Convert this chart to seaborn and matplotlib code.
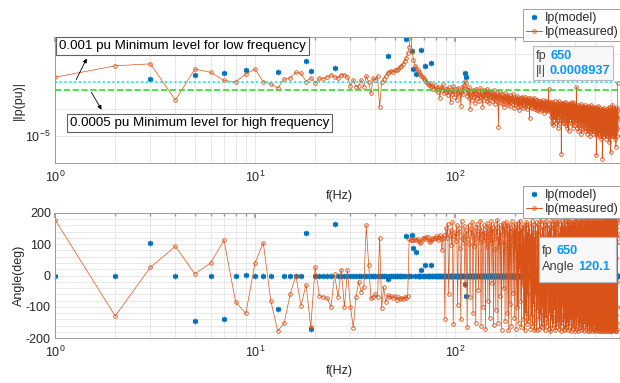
import numpy as np
import pandas as pd
import matplotlib
matplotlib.use("Agg")
import matplotlib.pyplot as plt
import seaborn as sns
from matplotlib.patches import Rectangle, FancyArrowPatch
from matplotlib.lines import Line2D
from matplotlib.ticker import FixedLocator, FixedFormatter, NullFormatter

# ---------------- data ----------------
freq_hz = list(range(1, 651))

# measured |Ip| in milli-pu (1e-3 pu), one value per Hz, 1..650 Hz
meas_mag_mpu = [
    1.45, 3.8, 4.5, 0.21, 2.9, 2.2, 1.1, 0.98, 1.9, 2.9,
    0.98, 0.83, 0.58, 1.23, 1.35, 2.2, 2.0, 1.0, 1.4, 0.87,
    1.35, 1.26, 1.5, 1.8, 1.5, 1.33, 1.8, 1.8, 1.5, 0.69,
    1.15, 0.64, 0.69, 1.15, 0.64, 1.6, 0.97, 0.37, 1.36, 1.15,
    1.6, 0.117, 0.97, 1.26, 1.6, 2.1, 2.3, 2.5, 2.3, 2.7,
    2.7, 2.9, 3.5, 3.8, 4.5, 5.8, 7.4, 11, 19, 60,
    13, 6.3, 3.8, 3.2, 2.7, 2.3, 1.9, 1.6, 1.5, 1.26,
    1.15, 0.97, 0.82, 0.75, 0.9, 0.64, 0.69, 0.54, 0.75, 0.5,
    0.59, 0.42, 0.64, 0.25, 0.59, 0.5, 0.82, 0.38, 0.54, 0.42,
    0.55, 0.32, 0.61, 0.40, 0.18, 0.48, 0.35, 0.70, 0.28, 0.44,
    0.52, 0.22, 0.38, 0.60, 0.31, 0.47, 0.13, 0.42, 0.66, 0.36,
    0.75, 1.05, 0.90, 0.55, 0.30, 0.48, 0.26, 0.62, 0.10, 0.40,
    0.35, 0.21, 0.50, 0.28, 0.44, 0.17, 0.38, 0.55, 0.24, 0.33,
    0.46, 0.19, 0.30, 0.58, 0.27, 0.40, 0.12, 0.36, 0.49, 0.22,
    0.31, 0.43, 0.26, 0.52, 0.20, 0.34, 0.45, 0.16, 0.38, 0.28,
    0.30, 0.42, 0.19, 0.27, 0.36, 0.23, 0.48, 0.15, 0.29, 0.33,
    0.21, 0.38, 0.26, 0.18, 0.022, 0.31, 0.24, 0.40, 0.17, 0.28,
    0.22, 0.34, 0.15, 0.26, 0.30, 0.12, 0.25, 0.37, 0.19, 0.23,
    0.28, 0.16, 0.33, 0.21, 0.14, 0.27, 0.20, 0.31, 0.13, 0.24,
    0.18, 0.26, 0.22, 0.35, 0.15, 0.20, 0.28, 0.11, 0.23, 0.19,
    0.21, 0.14, 0.25, 0.17, 0.30, 0.12, 0.19, 0.23, 0.09, 0.18,
    0.26, 0.15, 0.20, 0.13, 0.24, 0.17, 0.28, 0.11, 0.19, 0.22,
    0.14, 0.21, 0.16, 0.27, 0.12, 0.18, 0.23, 0.10, 0.20, 0.15,
    0.25, 0.13, 0.19, 0.16, 0.22, 0.045, 0.17, 0.24, 0.12, 0.18,
    0.14, 0.20, 0.11, 0.23, 0.16, 0.19, 0.13, 0.26, 0.15, 0.12,
    0.17, 0.10, 0.21, 0.14, 0.18, 0.09, 0.15, 0.22, 0.12, 0.16,
    0.11, 0.19, 0.14, 0.08, 0.17, 0.13, 0.20, 0.10, 0.15, 0.12,
    0.18, 0.09, 0.14, 0.21, 0.11, 0.16, 0.13, 0.07, 0.17, 0.12,
    0.15, 0.10, 0.19, 0.13, 0.08, 0.16, 0.11, 0.14, 0.20, 0.09,
    0.13, 0.17, 0.10, 0.54, 0.12, 0.08, 0.15, 0.11, 0.18, 0.09,
    0.16, 0.05, 0.12, 0.03, 0.09, 0.18, 0.06, 0.11, 0.025, 0.14,
    0.07, 0.13, 0.04, 0.10, 0.20, 0.05, 0.08, 0.15, 0.03, 0.11,
    0.09, 0.04, 0.17, 0.07, 0.12, 0.02, 0.10, 0.14, 0.05, 0.08,
    0.19, 0.06, 0.11, 0.03, 0.13, 0.07, 0.09, 0.16, 0.04, 0.0022,
    0.10, 0.15, 0.05, 0.12, 0.03, 0.17, 0.06, 0.09, 0.13, 0.04,
    0.08, 0.14, 0.03, 0.11, 0.18, 0.05, 0.07, 0.12, 0.025, 0.10,
    0.16, 0.04, 0.09, 0.13, 0.02, 0.08, 0.15, 0.05, 0.11, 0.015,
    0.12, 0.06, 0.14, 0.03, 0.09, 0.07, 0.17, 0.04, 0.10, 0.13,
    0.05, 0.08, 0.15, 0.03, 0.11, 0.18, 0.02, 0.07, 0.12, 0.04,
    0.10, 0.06, 0.16, 0.025, 0.09, 0.13, 0.04, 0.11, 0.07, 0.14,
    0.08, 0.03, 0.12, 0.06, 0.62, 0.04, 0.10, 0.02, 0.09, 0.07,
    0.14, 0.035, 0.08, 0.015, 0.11, 0.06, 0.03, 0.13, 0.05, 0.09,
    0.07, 0.12, 0.025, 0.05, 0.15, 0.02, 0.09, 0.06, 0.012, 0.11,
    0.04, 0.08, 0.03, 0.13, 0.06, 0.045, 0.10, 0.018, 0.07, 0.12,
    0.03, 0.09, 0.05, 0.08, 0.015, 0.11, 0.14, 0.035, 0.07, 0.05,
    0.10, 0.02, 0.06, 0.12, 0.03, 0.08, 0.012, 0.05, 0.11, 0.04,
    0.07, 0.018, 0.09, 0.035, 0.13, 0.015, 0.08, 0.04, 0.06, 0.025,
    0.11, 0.045, 0.01, 0.07, 0.03, 0.09, 0.05, 0.14, 0.02, 0.06,
    0.04, 0.10, 0.015, 0.07, 0.12, 0.025, 0.05, 0.09, 0.012, 0.06,
    0.03, 0.08, 0.045, 0.11, 0.015, 0.05, 0.10, 0.02, 0.07, 0.04,
    0.09, 0.018, 0.06, 0.12, 0.03, 0.012, 0.08, 0.035, 0.05, 0.002,
    0.07, 0.02, 0.10, 0.04, 0.01, 0.08, 0.03, 0.06, 0.015, 0.13,
    0.035, 0.07, 0.012, 0.09, 0.02, 0.06, 0.04, 0.11, 0.015, 0.05,
    0.08, 0.01, 0.06, 0.03, 0.018, 0.09, 0.04, 0.008, 0.07, 0.02,
    0.05, 0.10, 0.015, 0.07, 0.0015, 0.045, 0.02, 0.09, 0.012, 0.06,
    0.025, 0.08, 0.04, 0.01, 0.11, 0.02, 0.05, 0.07, 0.012, 0.045,
    0.03, 0.09, 0.05, 0.015, 0.07, 0.008, 0.04, 0.02, 0.08, 0.035,
    0.012, 0.06, 0.025, 0.05, 0.10, 0.018, 0.01, 0.045, 0.07, 0.02,
    0.04, 0.015, 0.08, 0.01, 0.05, 0.12, 0.025, 0.035, 0.006, 0.07,
    0.02, 0.05, 0.012, 0.09, 0.03, 0.045, 0.11, 0.015, 0.01, 0.0025,
    0.06, 0.02, 0.08, 0.012, 0.045, 0.025, 0.10, 0.04, 0.01, 0.07,
    0.018, 0.05, 0.14, 0.02, 0.07, 0.01, 0.045, 0.015, 0.08, 0.035,
    0.012, 0.07, 0.025, 0.05, 0.11, 0.018, 0.04, 0.008, 0.06, 0.02,
    0.045, 0.015, 0.08, 0.01, 0.05, 0.12, 0.025, 0.004, 0.06, 0.02,
    0.07, 0.015, 0.045, 0.10, 0.01, 0.05, 0.02, 0.08, 0.035, 0.8937,
]

# measured angle in degrees, one value per Hz, 1..650 Hz
meas_ang_deg = [
    178, -129, 26, 93, 5, 40, 112, -84, -121, 40,
    104, -81, -177, -151, -59, 0, -96, -29, -164, 27,
    -65, -68, -73, -100, 4, -68, 19, -100, 16, -99,
    -166, -68, -20, -52, -37, 160, 35, -73, -68, -60,
    -70, 121, -103, -37, -85, -63, -70, -66, -72, -64,
    -78, -69, -74, -71, -76, -68, -72, -65, 115, 112,
    114, 113, 115, 114, 116, 110, 104, 108, 118, 120,
    117, 122, 124, 110, 106, 112, 118, 115, 120, 125,
    118, 114, 122, 128, 116, 80, 121, 130,
    -137, 152, 118, 165, -60, 130, 145, 98, 170, -155, 125, 140,
    110, 160, -95, 135, 150, 88, -140, 172, 120, 105,
    158, -30, 130, 145, -165, 115, 162, 100, -70, 148,
    125, 170, -120, 138, 95, 155, -150, 118, 165, 132,
    -45, 150, 108, 175, -160, 128, 142, -100, 160, 112,
    135, -170, 155, 90, 168, -80, 122, 146, -135, 158,
    105, 172, -25, 138, 150, -158, 115, 165, 85, -110,
    148, 130, 176, -150, 120, 95, 160, -65, 142, 110,
    -172, 155, 128, 168, -40, 102, 150, -145, 135, 170,
    88, -120, 158, 140, -175, 115, 162, -90, 130, 150,
    -160, 98, 172, 125, -55, 145, 110, -135, 165, 82,
    140, -170, 155, 60, -100, 168, 120, -150, 135, 20,
    175, -80, 110, 150, -165, 90, 145, -30, 160, -140,
    125, 70, -175, 158, 105, -120, 170, 40, -155, 138,
    100, -60, 165, -145, 115, 150, -10, -170, 130, 85,
    -130, 172, 55, -160, 140, 110, -90, 160, -175, 120,
    -150, 90, 170, -60, 25, -175, 140, -110, 60, 165,
    -140, 10, 155, -170, 100, -40, 175, -125, 75, -160,
    130, -20, -165, 150, 45, -100, 170, -150, 115, -5,
    -175, 160, -80, 95, -135, 175, 30, -160, 120, -55,
    165, -145, 70, -170, 140, -15, 155, -120, 85, -178,
    150, -60, 172, -140, 35, 125, -168, 100, -90, 160,
    -155, 55, 175, -110, -30, 145, -175, 80, 165, -130,
    20, -165, 138, 170, -75, 110, -150, 40, 178, -100,
    -170, 130, 65, -145, 160, -20, -178, 150, 90, -125,
    172, -160, 45, 120, -95, 168, -140, 5, 155, -175,
    100, -55, 176, -135, 135, -170, 60, 162, -110, 25,
    -165, 145, -80, 178, -150, 95, 15, -175, 170, -120,
    130, -45, 160, -160, 75, -100, 175, -140, 40, 150,
    -178, 110, -25, 165, -130, 170, -65, 55, -170, 140,
    90, -155, 172, -90, 120, -176, 30, 158, -115, 175,
    -140, 65, -170, 150, -10, -160, 178, 100, -130, 160,
    -75, 135, -178, 45, 170, -145, 80, -105, 176, -165,
    120, 10, -150, 168, -60, 145, -175, 95, 175, -120,
    -35, 160, -168, 115, -90, 178, -140, 50, 150, -178,
    130, -70, 172, -155, 85, -15, 165, -130, 105, -172,
    176, -100, 35, 155, -165, 125, -50, 178, -145, 70,
    -176, 160, -85, 140, 20, -160, 175, -120, 95, -178,
    150, -30, 170, -150, 110, -90, 178, -170, 60, 135,
    -135, 165, -178, 80, -60, 176, -155, 120, 5, -170,
    172, -110, 145, -175, 90, -40, 168, -145, 130, 178,
    -160, 55, -178, 155, -95, 170, -130, 100, -175, 140,
    30, -168, 176, -120, 125, -178, 75, -65, 162, -150,
    178, -20, 135, -172, 105, -140, 170, -85, 50, -176,
    155, -125, 176, -160, 95, 15, -178, 165, -100, 140,
    -170, 120, -45, 178, -150, 70, 160, -176, 110, -115,
    172, -165, 40, -135, 176, 130, -178, 85, -70, 168,
    -145, 150, -10, -172, 175, -110, 115, -160, 178, 60,
    -178, 140, -90, 165, -150, 100, -176, 170, -40, 125,
    -165, 178, 25, -130, 155, -178, 90, -100, 172, -155,
    145, -60, 176, -170, 110, -178, 165, -120, 70, 178,
    -150, 130, -176, 160, -80, 120, -168, 178, -135, 45,
    170, -178, 100, -110, 176, -160, 150, -30, -175, 165,
    -140, 178, 80, -172, 140, -95, 176, -155, 115, -178,
    160, -65, 172, -165, 125, -178, 55, 178, -125, 150,
    -176, 105, -150, 176, -20, 168, -170, 135, -100, 120.1,
]

# model: non-zero harmonic injections (all other frequencies: zero magnitude, 0 deg)
model_freqs = [3, 5, 7, 9, 13, 18, 19, 25, 46, 57, 61, 62, 64, 68, 71, 76, 112, 113]
model_mag_mpu = [1.29, 1.78, 2.1, 2.7, 2.2, 5.9, 2.5, 3.2, 8.7, 36, 13.5, 2.9, 1.9,
                 14.8, 3.6, 5.0, 2.0, 1.5]
model_ang_deg = [104, -146, -137, 2, -107, 134, -171, 163, -12, 125, 130, 86, 74,
                 16, 32, 32, -28, -64]

low_freq_limit = 0.001
high_freq_limit = 0.0005
tip_freq = 650
tip_mag_text = "0.0008937"
tip_ang_text = "120.1"

# ---------------- tables ----------------
meas = pd.DataFrame({"f": freq_hz,
                     "mag": np.array(meas_mag_mpu) * 1e-3,
                     "ang": meas_ang_deg})
model_mag = pd.DataFrame({"f": model_freqs, "mag": np.array(model_mag_mpu) * 1e-3})
ang_lookup = dict(zip(model_freqs, model_ang_deg))
model_ang = pd.DataFrame({"f": freq_hz,
                          "ang": [ang_lookup.get(f, 0) for f in freq_hz]})

# ---------------- style ----------------
sns.set_theme(style="white")
plt.rcParams["font.family"] = ["Liberation Sans", "DejaVu Sans"]
plt.rcParams["mathtext.fontset"] = "custom"
plt.rcParams["mathtext.rm"] = "Liberation Sans"
plt.rcParams["mathtext.it"] = "Liberation Sans:italic"
plt.rcParams["mathtext.bf"] = "Liberation Sans:bold"
plt.rcParams["axes.unicode_minus"] = False

BLUE = "#0072BD"
ORANGE = "#D95319"
TXT = "#262626"
GRID = "#E4E4E4"
SPINE = "#9A9A9A"

W, H = 620, 383
fig = plt.figure(figsize=(W / 100, H / 100), dpi=100)
fig.patch.set_facecolor("white")


def px_rect(l, t, r, b):
    return [l / W, 1 - b / H, (r - l) / W, (b - t) / H]


AX_L = 55
AX_R = 55 + 569
ax1 = fig.add_axes(px_rect(AX_L, 36.7, AX_R, 163.3))
ax2 = fig.add_axes(px_rect(AX_L, 212.7, AX_R, 338.3))

meas_kw = dict(color=ORANGE, lw=0.5, marker="o", markersize=2.6,
               markerfacecolor="none", markeredgecolor=ORANGE,
               markeredgewidth=0.6, estimator=None, sort=False, legend=False)
model_kw = dict(color=BLUE, linestyle="none", marker=(6, 2, 0), markersize=3.8,
                markeredgecolor=BLUE, markeredgewidth=1.1, estimator=None,
                sort=False, legend=False)

# ---- top: magnitude ----
sns.lineplot(data=model_mag, x="f", y="mag", ax=ax1, **model_kw)
sns.lineplot(data=meas, x="f", y="mag", ax=ax1, **meas_kw)
ax1.axhline(low_freq_limit, color="#00F0F0", ls=":", lw=1.3, zorder=3)
ax1.axhline(high_freq_limit, color="#2BDD2B", ls="--", lw=1.2, zorder=3)
ax1.set_xscale("log")
ax1.set_yscale("log")
ax1.set_xlim(1, 700)
ax1.set_ylim(1e-6, 10 ** -1.35)
ax1.yaxis.set_major_locator(FixedLocator([1e-5]))
ax1.yaxis.set_major_formatter(FixedFormatter([r"$\mathregular{10^{-5}}$"]))
ax1.yaxis.set_minor_locator(FixedLocator([1e-4, 1e-3, 1e-2]))
ax1.yaxis.set_minor_formatter(NullFormatter())
ax1.set_ylabel("|Ip(pu)|", fontsize=9, color=TXT)
ax1.yaxis.set_label_coords(-0.053, 0.5)

# ---- bottom: angle ----
sns.lineplot(data=model_ang, x="f", y="ang", ax=ax2, **model_kw)
sns.lineplot(data=meas, x="f", y="ang", ax=ax2, **meas_kw)
ax2.set_xscale("log")
ax2.set_xlim(1, 700)
ax2.set_ylim(-200, 200)
ax2.yaxis.set_major_locator(FixedLocator([-200, -100, 0, 100, 200]))
ax2.yaxis.set_minor_locator(FixedLocator(list(range(-180, 200, 20))))
ax2.set_ylabel("Angle(deg)", fontsize=9, color=TXT)
ax2.yaxis.set_label_coords(-0.053, 0.5)

xminor = [m * d for d in (1, 10, 100) for m in range(2, 10) if m * d < 700]
for ax, yl in ((ax1, -0.211), (ax2, -0.2126)):
    ax.xaxis.set_major_locator(FixedLocator([1, 10, 100]))
    ax.xaxis.set_major_formatter(FixedFormatter([r"$\mathregular{10^{0}}$",
                                                 r"$\mathregular{10^{1}}$",
                                                 r"$\mathregular{10^{2}}$"]))
    ax.xaxis.set_minor_locator(FixedLocator(xminor))
    ax.xaxis.set_minor_formatter(NullFormatter())
    ax.set_xlabel("f(Hz)", fontsize=9, color=TXT)
    ax.xaxis.set_label_coords(0.5, yl)
    ax.grid(True, which="both", color=GRID, lw=0.6)
    ax.set_axisbelow(True)
    for s in ax.spines.values():
        s.set_color(SPINE)
        s.set_linewidth(0.7)
    ax.tick_params(which="both", direction="in", top=True, right=True,
                   colors=SPINE, labelcolor=TXT, labelsize=9)
    ax.tick_params(which="major", length=3.5)
    ax.tick_params(which="minor", length=2)
    ax.tick_params(axis="x", pad=5)
    ax.tick_params(axis="y", pad=3)
    ax.set_facecolor("white")

# ---------------- legends ----------------
handles = [Line2D([], [], color=BLUE, ls="none", marker=(6, 2, 0), markersize=3.8,
                  markeredgewidth=1.1, markeredgecolor=BLUE),
           Line2D([], [], color=ORANGE, lw=0.7, marker="o", markersize=2.6,
                  markerfacecolor="none", markeredgecolor=ORANGE, markeredgewidth=0.6)]
labels = ["Ip(model)", "Ip(measured)"]
for top_px in (9, 186):
    lg = fig.legend(handles, labels, loc="upper left",
                    bbox_to_anchor=(523 / W, 1 - top_px / H),
                    fontsize=8.9, frameon=True, fancybox=False, framealpha=1,
                    edgecolor="#A0A0A0", borderpad=0.25, labelspacing=0.15,
                    handlelength=1.25, handletextpad=0.3, borderaxespad=0)
    lg.get_frame().set_linewidth(0.7)
    for t in lg.get_texts():
        t.set_color(TXT)

# ---------------- annotations ----------------
box_kw = dict(boxstyle="square,pad=0.22", facecolor="white", edgecolor="#606060", lw=0.8)
fig.text(59 / W, 1 - 46 / H, "0.001 pu Minimum level for low frequency",
         fontsize=9.6, color="black", ha="left", va="center", bbox=box_kw)
fig.text(70 / W, 1 - 123 / H, "0.0005 pu Minimum level for high frequency",
         fontsize=9.6, color="black", ha="left", va="center", bbox=box_kw)
for (xa, ya), (xb, yb) in (((75, 82), (88, 56)), ((90, 90), (103, 112))):
    fig.add_artist(FancyArrowPatch((xa / W, 1 - ya / H), (xb / W, 1 - yb / H),
                                   transform=fig.transFigure, arrowstyle="-|>",
                                   mutation_scale=6, lw=0.6, color="black"))

# ---------------- data tips ----------------
renderer = fig.canvas.get_renderer()
TIPBLUE = "#0A96F5"


def data_tip(l, t, r, b, rows, xtext):
    fig.add_artist(Rectangle((l / W, 1 - b / H), (r - l) / W, (b - t) / H,
                             transform=fig.transFigure, facecolor="#F8F8FA",
                             edgecolor="#B8B8C0", lw=0.8, zorder=10))
    for label, value, yc in rows:
        t1 = fig.text(xtext / W, 1 - yc / H, label, fontsize=9.2, color="#404040",
                      ha="left", va="center", zorder=11)
        bb = t1.get_window_extent(renderer)
        fig.text((bb.x1 + 3.5) / W, 1 - yc / H, value, fontsize=9.2,
                 color=TIPBLUE, fontweight="bold", ha="left", va="center", zorder=11)


data_tip(533, 46, 613, 80, [("fp", str(tip_freq), 56), ("|I|", tip_mag_text, 71)], 536)
data_tip(539, 237, 616, 282, [("fp", str(tip_freq), 251), ("Angle", tip_ang_text, 267)], 542)

fig.savefig("out.png", dpi=100, facecolor="white")
